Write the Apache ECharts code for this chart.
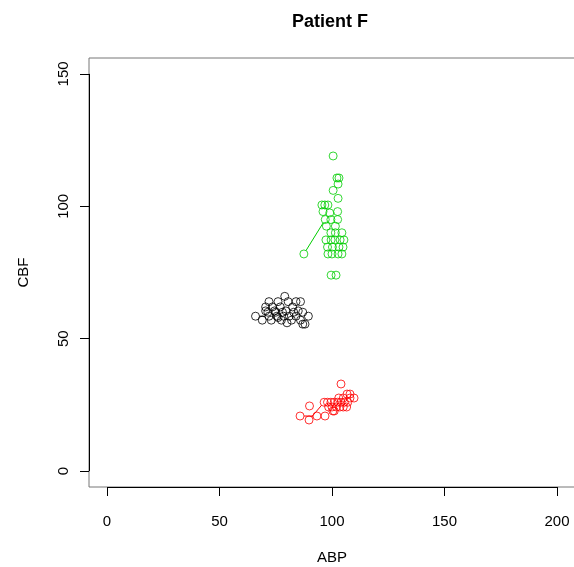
<!DOCTYPE html>
<html><head><meta charset="utf-8">
<script src="https://cdn.jsdelivr.net/npm/echarts@6/dist/echarts.min.js"></script>
<style>html,body{margin:0;padding:0;background:#fff}#c{width:574px;height:567px}</style>
</head><body><div id="c"></div>
<script>
const xTicks = [0, 50, 100, 150, 200];
const yTicks = [0, 50, 100, 150];

const abpBlack = [66, 69, 70.5, 72, 73, 74.5, 75.5, 77.5, 78.5, 79.5, 81, 82, 84, 85, 86, 87, 88, 89.5, 86, 84, 82.5, 80.5, 79, 77, 76, 73.5, 72, 70.5, 71.5, 75, 78, 83, 87, 76, 80];
const cbfBlack = [58.5, 57, 60.5, 58.5, 57, 60.5, 58.5, 57, 58.5, 60.5, 58.5, 57, 58.5, 60.5, 57, 55.5, 55.5, 58.5, 64, 64, 62, 64, 66, 62, 64, 62, 64, 62, 60, 60, 60, 60, 60, 58, 56];

const abpGreen = [87.5, 97, 99, 96, 95.5, 96.8, 98.2, 99.5, 97.5, 99.5, 97.3, 98, 98.2, 100, 100.2, 99.6, 101.5, 101.5, 102.5, 102.5, 102.7, 100.5, 102.7, 102.2, 103.1, 100.5, 102.7, 104.4, 104.9, 105.3, 103.6, 101.3, 99.6, 101.8, 103.1, 104.4];
const cbfGreen = [82, 95, 97.5, 98, 100.5, 100.5, 100.5, 95, 92.5, 90, 87.3, 84.6, 82, 82, 84.6, 87.3, 90, 92.5, 95, 98, 103, 106, 108.4, 110.7, 110.7, 119, 82, 82, 84.6, 87.3, 87.3, 87.3, 74, 74, 84.6, 90];

const abpRed = [85.8, 89.8, 90, 93.3, 96.9, 96.5, 98, 99.5, 100.4, 101, 102.5, 103.5, 104, 105, 105.5, 106.5, 107, 108, 109.8, 106.7, 108, 104, 102, 103, 105, 98.5, 100, 101];
const cbfRed = [20.8, 19.3, 24.6, 20.8, 20.8, 26, 26, 26, 22.7, 26, 26, 24.2, 26, 24.2, 26, 24.2, 26, 27.6, 27.6, 29.1, 29.1, 32.9, 24.2, 27.6, 27.6, 24.2, 24.2, 22.7];

// visible connecting paths (drawn R "type=b" style, with gaps at the points)
const linkBlackAbp = [66, 72];
const linkBlackCbf = [58.5, 58.5];
const linkGreenAbp = [87.5, 97];
const linkGreenCbf = [82, 95];
const linkRedAbp = [85.8, 93.3];
const linkRedCbf = [20.8, 20.8];
const linkRed2Abp = [89.8, 96.5];
const linkRed2Cbf = [19.3, 26];

const BLACK = '#000000', GREEN = '#00CD00', RED = '#FF0000';
const R = 4;

function pts(a, b) { return a.map((v, i) => [v, b[i]]); }
function segs(a, b) { const s = []; for (let i = 1; i < a.length; i++) s.push([a[i-1], b[i-1], a[i], b[i]]); return s; }
function gapLine(color) {
  return function (params, api) {
    const p0 = api.coord([api.value(0), api.value(1)]);
    const p1 = api.coord([api.value(2), api.value(3)]);
    const dx = p1[0] - p0[0], dy = p1[1] - p0[1];
    const d = Math.hypot(dx, dy);
    if (d <= 2 * R) return null;
    const ux = dx / d, uy = dy / d;
    return { type: 'line', shape: { x1: p0[0] + ux * R, y1: p0[1] + uy * R, x2: p1[0] - ux * R, y2: p1[1] - uy * R },
      style: { stroke: color, lineWidth: 1, fill: null } };
  };
}
function scatter(a, b, color) {
  return { type: 'scatter', data: pts(a, b), symbol: 'circle', symbolSize: 8, clip: false, silent: true,
    itemStyle: { color: 'rgba(0,0,0,0)', borderColor: color, borderWidth: 1 } };
}
function links(a, b, color) {
  return { type: 'custom', data: segs(a, b), renderItem: gapLine(color), encode: { x: [0, 2], y: [1, 3] }, silent: true, clip: false };
}

const font = 'Liberation Sans, Arial, sans-serif';
const chart = echarts.init(document.getElementById('c'), null, { renderer: 'canvas' });
const black = scatter(abpBlack, cbfBlack, BLACK);
black.markLine = {
  silent: true, symbol: ['none', 'none'], animation: false, label: { show: false },
  lineStyle: { color: '#000', width: 1, type: 'solid' },
  data: [
    [{ coord: [-8, yTicks[0]] }, { coord: [-8, yTicks[yTicks.length - 1]] }],
    [{ coord: [xTicks[0], -6] }, { coord: [xTicks[xTicks.length - 1], -6] }]
  ]
};
chart.setOption({
  animation: false,
  backgroundColor: '#ffffff',
  title: { text: 'Patient F', left: 325, top: 8, textAlign: 'center',
    textStyle: { fontFamily: font, fontSize: 18, fontWeight: 'bold', color: '#000' } },
  grid: { left: 89, right: -1, top: 58, bottom: 80, show: true, borderColor: '#777', borderWidth: 1,
    backgroundColor: 'transparent', containLabel: false, outerBoundsMode: 'none' },
  xAxis: {
    type: 'value', min: -8, max: 208, name: 'ABP', nameLocation: 'middle', nameGap: 63,
    nameTextStyle: { fontFamily: font, fontSize: 15, color: '#000' },
    axisLine: { show: false, onZero: false }, splitLine: { show: false },
    axisTick: { show: true, customValues: xTicks, length: 9, lineStyle: { color: '#000' } },
    axisLabel: { customValues: xTicks, fontFamily: font, fontSize: 15, color: '#000', margin: 27 }
  },
  yAxis: {
    type: 'value', min: -6, max: 156, name: 'CBF', nameLocation: 'middle', nameGap: 58,
    nameTextStyle: { fontFamily: font, fontSize: 15, color: '#000' },
    axisLine: { show: false, onZero: false }, splitLine: { show: false },
    axisTick: { show: true, customValues: yTicks, length: 9, lineStyle: { color: '#000' } },
    axisLabel: { customValues: yTicks, rotate: 90, fontFamily: font, fontSize: 15, color: '#000', margin: 18 }
  },
  series: [
    links(linkBlackAbp, linkBlackCbf, BLACK),
    links(linkGreenAbp, linkGreenCbf, GREEN),
    links(linkRedAbp, linkRedCbf, RED),
    links(linkRed2Abp, linkRed2Cbf, RED),
    black,
    scatter(abpGreen, cbfGreen, GREEN),
    scatter(abpRed, cbfRed, RED)
  ]
});
</script></body></html>
